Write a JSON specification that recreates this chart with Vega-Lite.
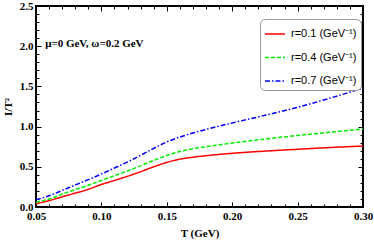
{
  "$schema": "https://vega.github.io/schema/vega-lite/v6.json",
  "width": 327,
  "height": 201,
  "autosize": {"type": "none"},
  "padding": {"left": 36, "top": 6, "right": 11, "bottom": 34},
  "config": {
    "view": {"stroke": "black", "strokeWidth": 2},
    "axis": {"grid": false, "domain": false, "tickColor": "black", "labelColor": "black", "titleColor": "black"}
  },
  "datasets": {
    "curves": [
      {"T": 0.05, "I": 0.04, "r": "r=0.1 (GeV⁻¹)"},
      {"T": 0.06, "I": 0.08, "r": "r=0.1 (GeV⁻¹)"},
      {"T": 0.075, "I": 0.15, "r": "r=0.1 (GeV⁻¹)"},
      {"T": 0.09, "I": 0.22, "r": "r=0.1 (GeV⁻¹)"},
      {"T": 0.10, "I": 0.28, "r": "r=0.1 (GeV⁻¹)"},
      {"T": 0.11, "I": 0.33, "r": "r=0.1 (GeV⁻¹)"},
      {"T": 0.125, "I": 0.41, "r": "r=0.1 (GeV⁻¹)"},
      {"T": 0.14, "I": 0.50, "r": "r=0.1 (GeV⁻¹)"},
      {"T": 0.15, "I": 0.555, "r": "r=0.1 (GeV⁻¹)"},
      {"T": 0.16, "I": 0.595, "r": "r=0.1 (GeV⁻¹)"},
      {"T": 0.17, "I": 0.62, "r": "r=0.1 (GeV⁻¹)"},
      {"T": 0.18, "I": 0.638, "r": "r=0.1 (GeV⁻¹)"},
      {"T": 0.20, "I": 0.668, "r": "r=0.1 (GeV⁻¹)"},
      {"T": 0.225, "I": 0.695, "r": "r=0.1 (GeV⁻¹)"},
      {"T": 0.25, "I": 0.718, "r": "r=0.1 (GeV⁻¹)"},
      {"T": 0.275, "I": 0.74, "r": "r=0.1 (GeV⁻¹)"},
      {"T": 0.30, "I": 0.758, "r": "r=0.1 (GeV⁻¹)"},
      {"T": 0.05, "I": 0.06, "r": "r=0.4 (GeV⁻¹)"},
      {"T": 0.06, "I": 0.10, "r": "r=0.4 (GeV⁻¹)"},
      {"T": 0.075, "I": 0.19, "r": "r=0.4 (GeV⁻¹)"},
      {"T": 0.09, "I": 0.27, "r": "r=0.4 (GeV⁻¹)"},
      {"T": 0.10, "I": 0.33, "r": "r=0.4 (GeV⁻¹)"},
      {"T": 0.11, "I": 0.39, "r": "r=0.4 (GeV⁻¹)"},
      {"T": 0.125, "I": 0.48, "r": "r=0.4 (GeV⁻¹)"},
      {"T": 0.14, "I": 0.58, "r": "r=0.4 (GeV⁻¹)"},
      {"T": 0.15, "I": 0.64, "r": "r=0.4 (GeV⁻¹)"},
      {"T": 0.16, "I": 0.69, "r": "r=0.4 (GeV⁻¹)"},
      {"T": 0.17, "I": 0.725, "r": "r=0.4 (GeV⁻¹)"},
      {"T": 0.18, "I": 0.75, "r": "r=0.4 (GeV⁻¹)"},
      {"T": 0.20, "I": 0.795, "r": "r=0.4 (GeV⁻¹)"},
      {"T": 0.225, "I": 0.845, "r": "r=0.4 (GeV⁻¹)"},
      {"T": 0.25, "I": 0.89, "r": "r=0.4 (GeV⁻¹)"},
      {"T": 0.275, "I": 0.93, "r": "r=0.4 (GeV⁻¹)"},
      {"T": 0.30, "I": 0.97, "r": "r=0.4 (GeV⁻¹)"},
      {"T": 0.05, "I": 0.09, "r": "r=0.7 (GeV⁻¹)"},
      {"T": 0.06, "I": 0.14, "r": "r=0.7 (GeV⁻¹)"},
      {"T": 0.075, "I": 0.24, "r": "r=0.7 (GeV⁻¹)"},
      {"T": 0.09, "I": 0.34, "r": "r=0.7 (GeV⁻¹)"},
      {"T": 0.10, "I": 0.41, "r": "r=0.7 (GeV⁻¹)"},
      {"T": 0.11, "I": 0.485, "r": "r=0.7 (GeV⁻¹)"},
      {"T": 0.125, "I": 0.60, "r": "r=0.7 (GeV⁻¹)"},
      {"T": 0.14, "I": 0.73, "r": "r=0.7 (GeV⁻¹)"},
      {"T": 0.15, "I": 0.81, "r": "r=0.7 (GeV⁻¹)"},
      {"T": 0.16, "I": 0.87, "r": "r=0.7 (GeV⁻¹)"},
      {"T": 0.17, "I": 0.92, "r": "r=0.7 (GeV⁻¹)"},
      {"T": 0.18, "I": 0.965, "r": "r=0.7 (GeV⁻¹)"},
      {"T": 0.20, "I": 1.045, "r": "r=0.7 (GeV⁻¹)"},
      {"T": 0.225, "I": 1.14, "r": "r=0.7 (GeV⁻¹)"},
      {"T": 0.25, "I": 1.24, "r": "r=0.7 (GeV⁻¹)"},
      {"T": 0.275, "I": 1.355, "r": "r=0.7 (GeV⁻¹)"},
      {"T": 0.30, "I": 1.48, "r": "r=0.7 (GeV⁻¹)"}
    ],
    "note": [
      {"T": 0.057, "I": 2.03, "label": "μ=0 GeV, ω=0.2 GeV"}
    ]
  },
  "layer": [
    {
      "data": {"name": "curves"},
      "mark": {"type": "line", "strokeWidth": 1.5, "interpolate": "monotone"},
      "encoding": {
        "x": {
          "field": "T", "type": "quantitative",
          "scale": {"domain": [0.05, 0.30], "nice": false, "zero": false},
          "axis": {
            "orient": "bottom",
            "title": "T (GeV)",
            "titleFont": "Liberation Serif", "titleFontSize": 11, "titleFontWeight": "bold", "titlePadding": 4,
            "values": [0.05,0.06,0.07,0.08,0.09,0.10,0.11,0.12,0.13,0.14,0.15,0.16,0.17,0.18,0.19,0.20,0.21,0.22,0.23,0.24,0.25,0.26,0.27,0.28,0.29,0.30],
            "labelExpr": "round(datum.value*100) % 5 == 0 ? format(datum.value, '.2f') : ''",
            "labelFont": "Liberation Serif", "labelFontSize": 11, "labelFontWeight": "bold",
            "labelFlush": false, "labelOverlap": false,
            "tickSize": {"condition": {"test": "round(datum.value*100) % 5 == 0", "value": -5}, "value": -3},
            "tickWidth": 1, "labelPadding": 8
          }
        },
        "y": {
          "field": "I", "type": "quantitative",
          "scale": {"domain": [0, 2.5], "nice": false},
          "axis": {
            "orient": "left",
            "title": "I/T²",
            "titleFont": "Liberation Serif", "titleFontSize": 11, "titleFontWeight": "bold", "titlePadding": 6,
            "values": [0,0.1,0.2,0.3,0.4,0.5,0.6,0.7,0.8,0.9,1.0,1.1,1.2,1.3,1.4,1.5,1.6,1.7,1.8,1.9,2.0,2.1,2.2,2.3,2.4,2.5],
            "labelExpr": "round(datum.value*10) % 5 == 0 ? format(datum.value, '.1f') : ''",
            "labelFont": "Liberation Serif", "labelFontSize": 11, "labelFontWeight": "bold",
            "labelFlush": false, "labelOverlap": false,
            "tickSize": {"condition": {"test": "round(datum.value*10) % 5 == 0", "value": -5}, "value": -3},
            "tickWidth": 1, "labelPadding": 8
          }
        },
        "color": {
          "field": "r", "type": "nominal",
          "scale": {"domain": ["r=0.1 (GeV⁻¹)", "r=0.4 (GeV⁻¹)", "r=0.7 (GeV⁻¹)"], "range": ["#ff0000", "#00ee00", "#0000ff"]},
          "legend": {
            "orient": "none", "legendX": 224, "legendY": 13,
            "title": null, "symbolType": "stroke", "symbolSize": 400, "symbolStrokeWidth": 1.5,
            "strokeColor": "#999999", "fillColor": "white", "cornerRadius": 5, "padding": 4, "rowPadding": 7.5,
            "labelOffset": 5,
            "labelFont": "Liberation Sans", "labelFontSize": 11, "labelColor": "black"
          }
        },
        "strokeDash": {
          "field": "r", "type": "nominal",
          "scale": {"domain": ["r=0.1 (GeV⁻¹)", "r=0.4 (GeV⁻¹)", "r=0.7 (GeV⁻¹)"], "range": [[1, 0], [4, 2], [5, 2, 1.5, 2]]},
          "legend": null
        }
      }
    },
    {
      "data": {"name": "curves"},
      "mark": {"type": "point", "opacity": 0},
      "encoding": {
        "x": {
          "field": "T", "type": "quantitative",
          "axis": {
            "orient": "top", "title": null, "labels": false,
            "values": [0.05,0.06,0.07,0.08,0.09,0.10,0.11,0.12,0.13,0.14,0.15,0.16,0.17,0.18,0.19,0.20,0.21,0.22,0.23,0.24,0.25,0.26,0.27,0.28,0.29,0.30],
            "tickSize": {"condition": {"test": "round(datum.value*100) % 5 == 0", "value": -5}, "value": -3},
            "tickWidth": 1
          }
        },
        "y": {
          "field": "I", "type": "quantitative",
          "axis": {
            "orient": "right", "title": null, "labels": false,
            "values": [0,0.1,0.2,0.3,0.4,0.5,0.6,0.7,0.8,0.9,1.0,1.1,1.2,1.3,1.4,1.5,1.6,1.7,1.8,1.9,2.0,2.1,2.2,2.3,2.4,2.5],
            "tickSize": {"condition": {"test": "round(datum.value*10) % 5 == 0", "value": -5}, "value": -3},
            "tickWidth": 1
          }
        }
      }
    },
    {
      "data": {"name": "note"},
      "mark": {"type": "text", "align": "left", "baseline": "middle", "font": "Liberation Serif", "fontSize": 11, "fontWeight": "bold", "color": "black"},
      "encoding": {
        "x": {"field": "T", "type": "quantitative", "axis": null},
        "y": {"field": "I", "type": "quantitative", "axis": null},
        "text": {"field": "label"}
      }
    }
  ],
  "resolve": {"axis": {"x": "independent", "y": "independent"}}
}
